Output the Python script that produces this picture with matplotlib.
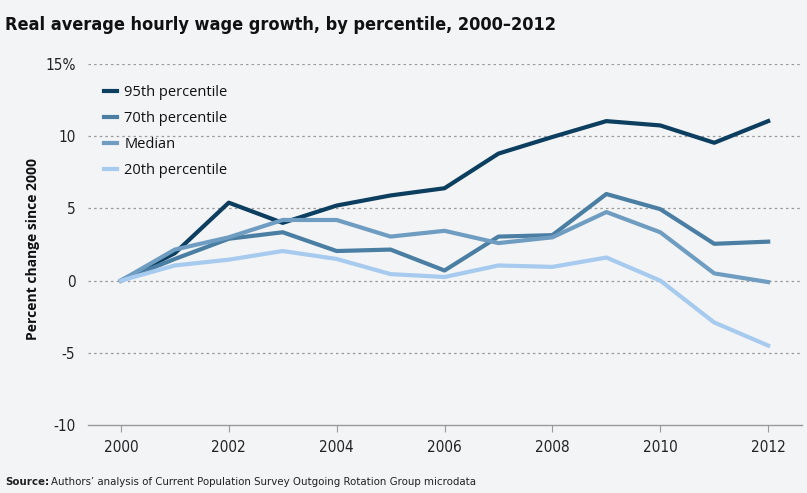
import numpy as np
import matplotlib.pyplot as plt

# данные
years = np.arange(2000, 2013)
p95 = [0, 1.9, 5.4, 4.0, 5.2, 5.9, 6.4, 8.8, 9.95, 11.05, 10.75, 9.55, 11.05]
p70 = [0, 1.5, 2.9, 3.35, 2.05, 2.15, 0.7, 3.05, 3.15, 6.0, 4.95, 2.55, 2.7]
med = [0, 2.15, 3.0, 4.2, 4.2, 3.05, 3.45, 2.6, 3.0, 4.75, 3.35, 0.5, -0.1]
p20 = [0, 1.05, 1.45, 2.05, 1.5, 0.45, 0.25, 1.05, 0.95, 1.6, 0.0, -2.9, -4.5]
series_names = ['95th percentile', '70th percentile', 'Median', '20th percentile']
colors = ['#0b3e5f', '#4a7ea3', '#6f9dc2', '#a6cbee']
yticks = [-10, -5, 0, 5, 10, 15]
ytick_labels = ['-10', '-5', '0', '5', '10', '15%']
xticks = np.arange(2000, 2013, 2)

bg = '#f3f4f6'
cond = dict(fontfamily='DejaVu Sans', fontstretch='condensed')

fig = plt.figure(figsize=(8.07, 4.93), dpi=100, facecolor=bg)
ax = fig.add_axes([0.109, 0.138, 0.885, 0.732], facecolor=bg)

for vals, name, c in zip([p95, p70, med, p20], series_names, colors):
    ax.plot(years, vals, color=c, lw=3.0, label=name)

ax.set_xlim(1999.39, 2012.63)
ax.set_ylim(-10, 15)
ax.set_yticks(yticks)
ax.set_yticklabels(ytick_labels, fontsize=11, color='#222222', **cond)
ax.set_xticks(xticks)
ax.set_xticklabels([str(x) for x in xticks], fontsize=11, color='#222222', **cond)
ax.tick_params(axis='y', length=0, pad=9)
ax.tick_params(axis='x', length=5, color='#999999', pad=6)

for y in yticks[1:]:
    ax.axhline(y, color='#999999', lw=0.9, ls=(0, (2, 2.5)), zorder=0)

for s in ['top', 'right', 'left']:
    ax.spines[s].set_visible(False)
ax.spines['bottom'].set_color('#999999')
ax.spines['bottom'].set_linewidth(1.0)

ax.set_ylabel('Percent change since 2000', fontfamily='Open Sans', fontweight='bold',
              fontsize=10, color='#111111')
ax.yaxis.set_label_coords(-0.067, 0.4875)

leg = ax.legend(loc='upper left', bbox_to_anchor=(0.004, 0.979), frameon=False,
                handlelength=0.9, handletextpad=0.5, labelspacing=0.75,
                prop={'family': 'Open Sans', 'size': 10.5})
for t in leg.get_texts():
    t.set_color('#111111')

fig.text(0.006, 0.968, 'Real average hourly wage growth, by percentile, 2000\u20132012',
         fontsize=13, fontweight='bold', color='#111111', va='top', **cond)
src = fig.text(0.006, 0.012, 'Source:', fontsize=8.2, fontweight='bold',
               color='#222222', va='bottom', **cond)
fig.canvas.draw()
bb = src.get_window_extent().transformed(fig.transFigure.inverted())
fig.text(bb.x1 + 0.003, 0.012,
         'Authors\u2019 analysis of Current Population Survey Outgoing Rotation Group microdata',
         fontsize=8.2, color='#222222', va='bottom', **cond)

fig.savefig('out.png', dpi=100, facecolor=bg)
